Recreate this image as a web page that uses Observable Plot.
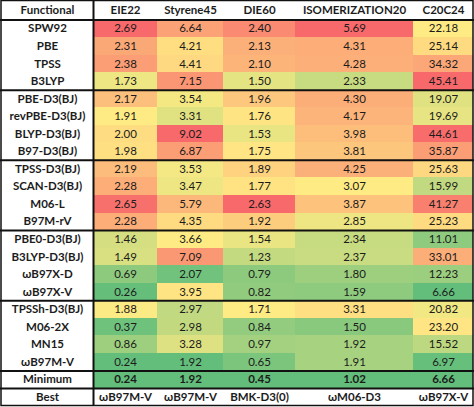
<!DOCTYPE html>
<html><head><meta charset="utf-8">
<script src="https://cdn.jsdelivr.net/npm/d3@7"></script>
<script src="https://cdn.jsdelivr.net/npm/@observablehq/plot@0.6"></script>
<style>html,body{margin:0;padding:0;background:#fff}svg{display:block}</style>
</head><body><div id="chart"></div>
<script>
// ---------- data ----------
const columns = ["EIE22", "Styrene45", "DIE60", "ISOMERIZATION20", "C20C24"];
const functionals = [
  "SPW92", "PBE", "TPSS", "B3LYP",
  "PBE-D3(BJ)", "revPBE-D3(BJ)", "BLYP-D3(BJ)", "B97-D3(BJ)",
  "TPSS-D3(BJ)", "SCAN-D3(BJ)", "M06-L", "B97M-rV",
  "PBE0-D3(BJ)", "B3LYP-D3(BJ)", "ωB97X-D", "ωB97X-V",
  "TPSSh-D3(BJ)", "M06-2X", "MN15", "ωB97M-V"
];
const groupSizes = [4, 4, 4, 4, 4];
const eie22     = [2.69, 2.31, 2.38, 1.73, 2.17, 1.91, 2.00, 1.98, 2.19, 2.28, 2.65, 2.28, 1.46, 1.49, 0.69, 0.26, 1.88, 0.37, 0.86, 0.24];
const styrene45 = [6.64, 4.21, 4.41, 7.15, 3.54, 3.31, 9.02, 6.87, 3.53, 3.47, 5.79, 4.35, 3.66, 7.09, 2.07, 3.95, 2.97, 2.98, 3.28, 1.92];
const die60     = [2.40, 2.13, 2.10, 1.50, 1.96, 1.76, 1.53, 1.75, 1.89, 1.77, 2.63, 1.92, 1.54, 1.23, 0.79, 0.82, 1.71, 0.84, 0.97, 0.65];
const isom20    = [5.69, 4.31, 4.28, 2.33, 4.30, 4.17, 3.98, 3.81, 4.25, 3.07, 3.87, 2.85, 2.34, 2.37, 1.80, 1.59, 3.31, 1.50, 1.92, 1.91];
const c20c24    = [22.18, 25.14, 34.32, 45.41, 19.07, 19.69, 44.61, 35.87, 25.63, 15.99, 41.27, 25.23, 11.01, 33.01, 12.23, 6.66, 20.82, 23.20, 15.52, 6.97];
const minimum   = [0.24, 1.92, 0.45, 1.02, 6.66];
const best      = ["ωB97M-V", "ωB97M-V", "BMK-D3(0)", "ωM06-D3", "ωB97X-V"];
const series = [eie22, styrene45, die60, isom20, c20c24];

// ---------- layout (pixel edges of columns / rows) ----------
const colEdges = [1, 93, 157, 223, 295, 413, 473];
const rowRange = [0.5, 19.5, 405.5];   // table top, header bottom, table bottom
const nRows = functionals.length + 3;  // header + functionals + Minimum + Best
const font = "Lato, 'Open Sans', sans-serif";
const ink = "#1c1c1c";
const fs = 11.5;

// ---------- per-column Excel-like 3-colour scale ----------
const cells = [];
series.forEach((vals, j) => {
  const all = vals.concat([minimum[j]]);
  const lo = d3.min(all), hi = d3.max(all), mid = d3.quantile(all, 0.5);
  const norm = v => v <= mid ? 0.5 * (v - lo) / (mid - lo) : 0.5 + 0.5 * (v - mid) / (hi - mid);
  all.forEach((v, i) => {
    cells.push({col: j + 1, row: i + 1, v, t: norm(v), isMin: i === vals.length});
  });
});

// separators: below header, between groups, below minimum
const seps = [1];
let acc = 1;
groupSizes.forEach(g => { acc += g; seps.push(acc); });
seps.push(acc + 1);

const headerCells = columns.map((c, j) => ({x: j + 1.5, label: c}));
const funcCells = functionals.map((f, i) => ({row: i + 1.5, label: f}));
const bestCells = best.map((b, j) => ({x: j + 1.5, label: b}));
const txt = {fontSize: fs, fill: ink};

const chart = Plot.plot({
  width: 474,
  height: 407,
  margin: 0,
  style: {fontFamily: font, background: "#fff"},
  x: {type: "linear", domain: d3.range(colEdges.length), range: colEdges, axis: null},
  y: {type: "linear", domain: [0, 1, nRows], range: rowRange, axis: null},
  color: {type: "linear", domain: [0, 0.5, 1], range: ["#63BE7B", "#FFEB84", "#F8696B"], interpolate: "rgb"},
  marks: [
    Plot.rect(cells, {x1: "col", x2: d => d.col + 1, y1: "row", y2: d => d.row + 1, fill: "t", shapeRendering: "crispEdges"}),
    Plot.text(cells.filter(d => !d.isMin), {x: d => d.col + 0.5, y: d => d.row + 0.5, text: d => d.v.toFixed(2), ...txt}),
    Plot.text(cells.filter(d => d.isMin), {x: d => d.col + 0.5, y: d => d.row + 0.5, text: d => d.v.toFixed(2), fontWeight: "bold", ...txt}),
    Plot.text(headerCells, {x: "x", y: 0.5, text: "label", fontWeight: "bold", ...txt}),
    Plot.text([{label: "Functional"}], {x: 0.5, y: 0.5, text: "label", fontWeight: "bold", ...txt}),
    Plot.text(funcCells, {x: 0.5, y: "row", text: "label", fontWeight: "bold", ...txt}),
    Plot.text([{label: "Minimum"}], {x: 0.5, y: nRows - 1.5, text: "label", fontWeight: "bold", ...txt}),
    Plot.text([{label: "Best"}], {x: 0.5, y: nRows - 0.5, text: "label", fontWeight: "bold", ...txt}),
    Plot.text(bestCells, {x: "x", y: nRows - 0.5, text: "label", fontWeight: "bold", ...txt}),
    Plot.ruleY(seps, {y: d => d, stroke: "#111", strokeWidth: 2}),
    Plot.ruleX([1], {x: d => d, y1: 0, y2: nRows, stroke: "#111", strokeWidth: 2}),
    Plot.rect([0], {x1: 0, x2: colEdges.length - 1, y1: 0, y2: nRows, fill: "none", stroke: "#111", strokeWidth: 1.5})
  ]
});
document.getElementById("chart").appendChild(chart);
</script>
</body></html>
